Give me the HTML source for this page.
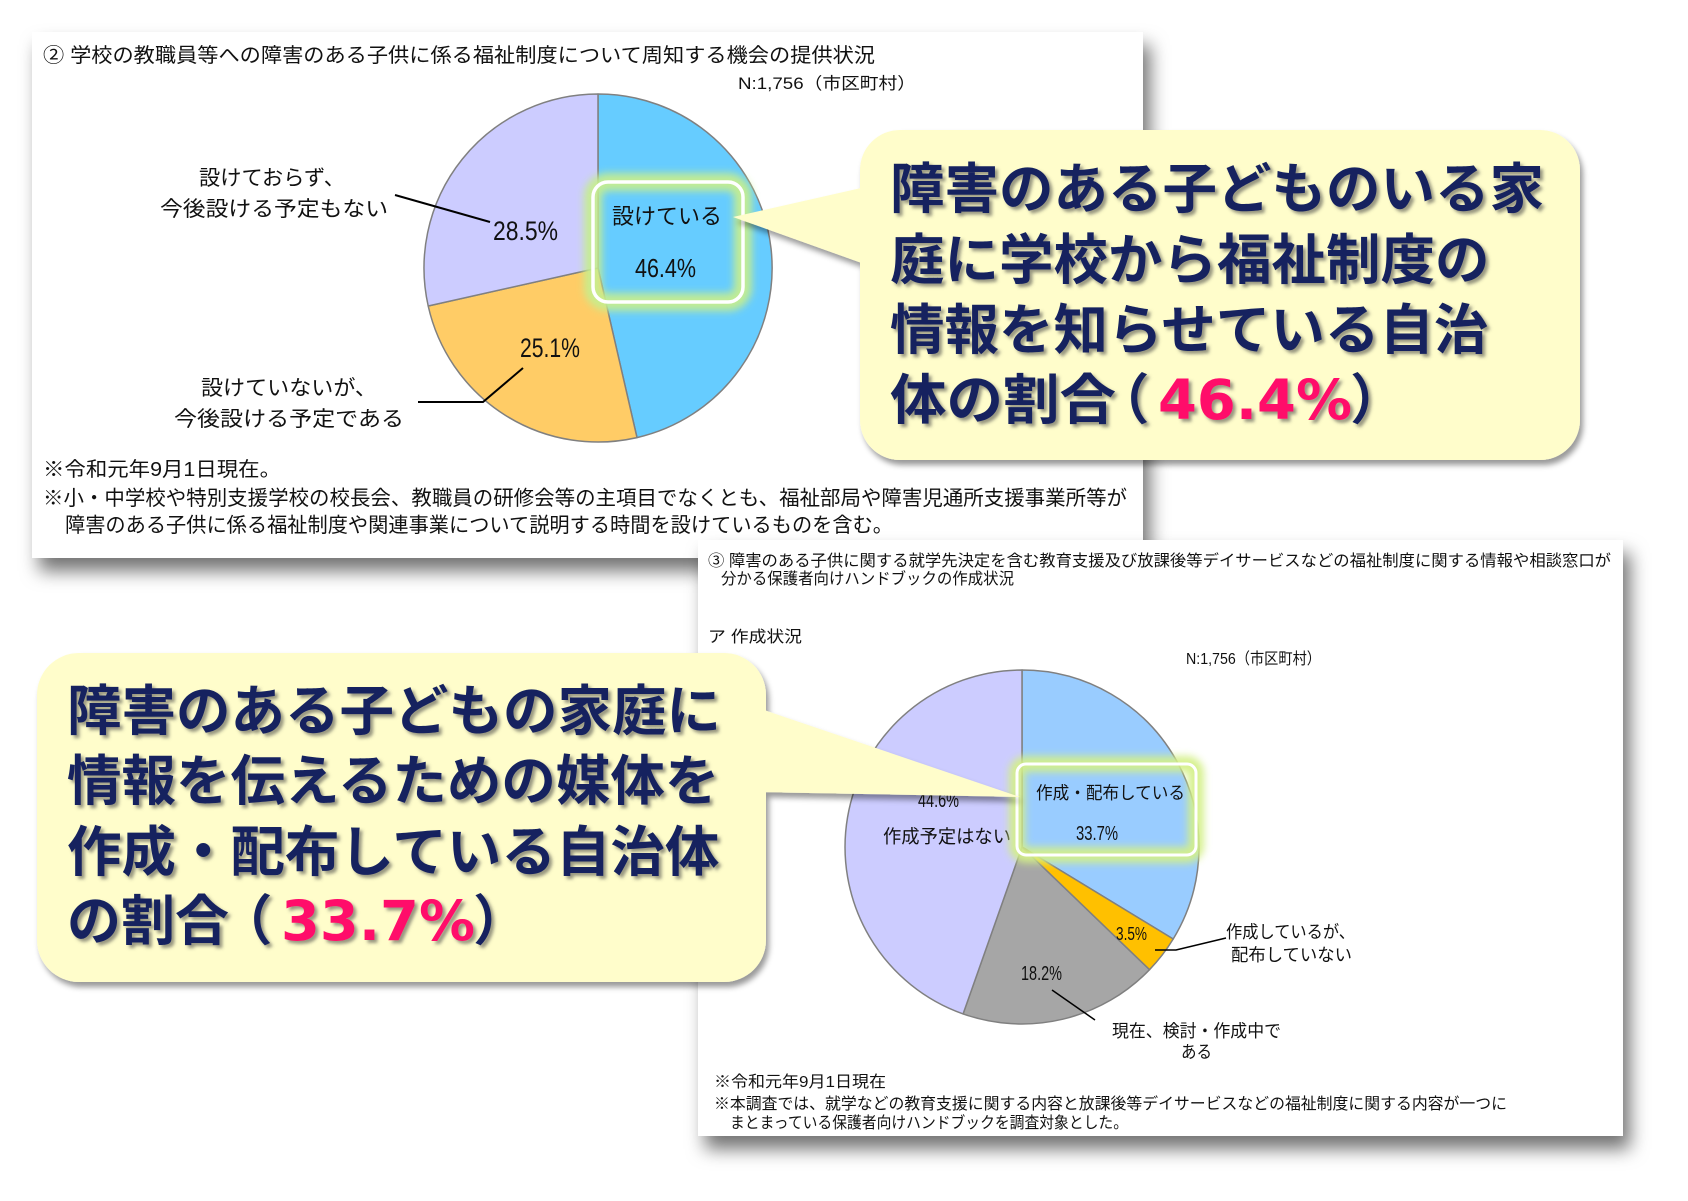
<!DOCTYPE html>
<html lang="ja">
<head>
<meta charset="utf-8">
<style>
html,body{margin:0;padding:0;background:#ffffff;}
body{width:1688px;height:1201px;overflow:hidden;}
svg{display:block;}
.t{font-family:"Liberation Sans","Noto Sans CJK JP",sans-serif;fill:#111;}
.big{font-family:"Liberation Sans","Noto Sans CJK JP",sans-serif;font-weight:bold;fill:#13235f;font-size:54.5px;}
.pk{font-family:"DejaVu Sans","Liberation Sans",sans-serif;font-weight:bold;fill:#ff0f6b;}
</style>
</head>
<body>
<svg width="1688" height="1201" viewBox="0 0 1688 1201" xmlns="http://www.w3.org/2000/svg">
<defs>
  <filter id="psh" x="-5%" y="-5%" width="115%" height="120%">
    <feDropShadow dx="7" dy="13" stdDeviation="9" flood-color="#000" flood-opacity="0.55"/>
  </filter>
  <filter id="csh" x="-5%" y="-5%" width="112%" height="118%">
    <feDropShadow dx="3" dy="5" stdDeviation="3" flood-color="#000" flood-opacity="0.4"/>
  </filter>
  <filter id="tsh" x="-5%" y="-30%" width="110%" height="160%">
    <feDropShadow dx="3" dy="3" stdDeviation="1.5" flood-color="#444" flood-opacity="0.55"/>
  </filter>
  <filter id="blur" x="-20%" y="-20%" width="140%" height="140%">
    <feGaussianBlur stdDeviation="4"/>
  </filter>
</defs>

<rect x="0" y="0" width="1688" height="1201" fill="#ffffff"/>

<!-- ============ TOP PANEL ============ -->
<rect x="32" y="32" width="1111" height="526" fill="#ffffff" filter="url(#psh)"/>

<text class="t" x="43" y="62" font-size="20" textLength="832" lengthAdjust="spacingAndGlyphs">② 学校の教職員等への障害のある子供に係る福祉制度について周知する機会の提供状況</text>
<text class="t" x="738" y="89" font-size="16.5" textLength="178" lengthAdjust="spacingAndGlyphs">N:1,756（市区町村）</text>

<!-- pie 1 -->
<g stroke="#808080" stroke-width="1.5" stroke-linejoin="round">
  <path d="M598,268 L598,94 A174,174 0 0 1 637.0,437.6 Z" fill="#66ccff"/>
  <path d="M598,268 L637.0,437.6 A174,174 0 0 1 428.2,306.0 Z" fill="#ffcc66"/>
  <path d="M598,268 L428.2,306.0 A174,174 0 0 1 598,94 Z" fill="#ccccff"/>
</g>

<text class="t" x="199" y="185" font-size="21" textLength="146" lengthAdjust="spacingAndGlyphs">設けておらず、</text>
<text class="t" x="160" y="216" font-size="21" textLength="228" lengthAdjust="spacingAndGlyphs">今後設ける予定もない</text>
<line x1="395" y1="195" x2="490" y2="222" stroke="#000" stroke-width="2"/>
<text class="t" x="493" y="240" font-size="27" textLength="65" lengthAdjust="spacingAndGlyphs">28.5%</text>

<text class="t" x="520" y="357" font-size="27" textLength="60" lengthAdjust="spacingAndGlyphs">25.1%</text>
<text class="t" x="201" y="395" font-size="21" textLength="176" lengthAdjust="spacingAndGlyphs">設けていないが、</text>
<text class="t" x="174" y="426" font-size="21" textLength="230" lengthAdjust="spacingAndGlyphs">今後設ける予定である</text>
<polyline points="418,402 483,402 523,368" fill="none" stroke="#000" stroke-width="2"/>

<!-- highlight box 1 -->
<rect x="593" y="182" width="150" height="120" rx="15" fill="none" stroke="#c6ee8e" stroke-width="18" filter="url(#blur)" opacity="0.95"/>
<text class="t" x="612" y="224" font-size="22" textLength="110" lengthAdjust="spacingAndGlyphs">設けている</text>
<text class="t" x="635" y="277" font-size="26" textLength="61" lengthAdjust="spacingAndGlyphs">46.4%</text>
<rect x="593" y="182" width="150" height="120" rx="15" fill="none" stroke="#ffffff" stroke-width="3.5"/>

<!-- footnotes top -->
<text class="t" x="43" y="476" font-size="20" textLength="238" lengthAdjust="spacingAndGlyphs">※令和元年9月1日現在。</text>
<text class="t" x="43" y="505" font-size="20.5" textLength="1084" lengthAdjust="spacingAndGlyphs">※小・中学校や特別支援学校の校長会、教職員の研修会等の主項目でなくとも、福祉部局や障害児通所支援事業所等が</text>
<text class="t" x="65" y="532" font-size="20.5" textLength="828" lengthAdjust="spacingAndGlyphs">障害のある子供に係る福祉制度や関連事業について説明する時間を設けているものを含む。</text>

<!-- ============ BOTTOM PANEL ============ -->
<rect x="698" y="540" width="925" height="596" fill="#ffffff" filter="url(#psh)"/>

<text class="t" x="708" y="566" font-size="16" textLength="903" lengthAdjust="spacingAndGlyphs">③ 障害のある子供に関する就学先決定を含む教育支援及び放課後等デイサービスなどの福祉制度に関する情報や相談窓口が</text>
<text class="t" x="721" y="584" font-size="16" textLength="293" lengthAdjust="spacingAndGlyphs">分かる保護者向けハンドブックの作成状況</text>
<text class="t" x="708" y="642" font-size="16" textLength="94" lengthAdjust="spacingAndGlyphs">ア 作成状況</text>
<text class="t" x="1186" y="664" font-size="16" textLength="135" lengthAdjust="spacingAndGlyphs">N:1,756（市区町村）</text>

<!-- pie 2 -->
<g stroke="#808080" stroke-width="1.5" stroke-linejoin="round">
  <path d="M1022,847 L1022,670 A177,177 0 0 1 1173.2,939.0 Z" fill="#99ccff"/>
  <path d="M1022,847 L1173.2,939.0 A177,177 0 0 1 1149.5,969.7 Z" fill="#ffc000"/>
  <path d="M1022,847 L1149.5,969.7 A177,177 0 0 1 963.1,1013.9 Z" fill="#a6a6a6"/>
  <path d="M1022,847 L963.1,1013.9 A177,177 0 0 1 1022,670 Z" fill="#ccccff"/>
</g>

<text class="t" x="918" y="807" font-size="20" textLength="41" lengthAdjust="spacingAndGlyphs">44.6%</text>
<text class="t" x="883" y="843" font-size="18.5" textLength="128" lengthAdjust="spacingAndGlyphs">作成予定はない</text>
<text class="t" x="1116" y="940" font-size="18" textLength="31" lengthAdjust="spacingAndGlyphs">3.5%</text>
<text class="t" x="1021" y="980" font-size="20" textLength="41" lengthAdjust="spacingAndGlyphs">18.2%</text>
<text class="t" x="1226" y="938" font-size="17.5" textLength="129" lengthAdjust="spacingAndGlyphs">作成しているが、</text>
<text class="t" x="1231" y="961" font-size="17.5" textLength="121" lengthAdjust="spacingAndGlyphs">配布していない</text>
<polyline points="1155,950 1176,950 1226,938" fill="none" stroke="#000" stroke-width="1.5"/>
<text class="t" x="1112" y="1037" font-size="17.5" textLength="169" lengthAdjust="spacingAndGlyphs">現在、検討・作成中で</text>
<text class="t" x="1181" y="1058" font-size="17.5" textLength="31" lengthAdjust="spacingAndGlyphs">ある</text>
<line x1="1052" y1="990" x2="1095" y2="1020" stroke="#000" stroke-width="1.5"/>

<!-- highlight box 2 -->
<rect x="1017" y="764" width="179" height="91" rx="9" fill="none" stroke="#d4f088" stroke-width="16" filter="url(#blur)" opacity="0.95"/>
<text class="t" x="1036" y="799" font-size="17.5" textLength="149" lengthAdjust="spacingAndGlyphs">作成・配布している</text>
<text class="t" x="1076" y="840" font-size="20" textLength="42" lengthAdjust="spacingAndGlyphs">33.7%</text>
<rect x="1017" y="764" width="179" height="91" rx="9" fill="none" stroke="#ffffff" stroke-width="3"/>

<!-- footnotes bottom -->
<text class="t" x="714" y="1087" font-size="16" textLength="172" lengthAdjust="spacingAndGlyphs">※令和元年9月1日現在</text>
<text class="t" x="714" y="1109" font-size="16" textLength="793" lengthAdjust="spacingAndGlyphs">※本調査では、就学などの教育支援に関する内容と放課後等デイサービスなどの福祉制度に関する内容が一つに</text>
<text class="t" x="730" y="1128" font-size="16" textLength="398" lengthAdjust="spacingAndGlyphs">まとまっている保護者向けハンドブックを調査対象とした。</text>

<!-- ============ CALLOUT 1 ============ -->
<g filter="url(#csh)" fill="#fffdcb">
  <rect x="860" y="130" width="720" height="330" rx="40" ry="40"/>
  <polygon points="733,217 870,186 870,266"/>
</g>
<g filter="url(#tsh)">
  <text class="big" x="890" y="208">障害のある子どものいる家</text>
  <text class="big" x="890" y="279">庭に学校から福祉制度の</text>
  <text class="big" x="890" y="349">情報を知らせている自治</text>
  <text class="big" x="890" y="419" textLength="226" lengthAdjust="spacingAndGlyphs">体の割合</text>
  <text class="big" x="1095" y="419">（</text>
  <text class="pk" x="1158" y="419" font-size="55" textLength="194" lengthAdjust="spacingAndGlyphs">46.4%</text>
  <text class="big" x="1350" y="419">）</text>
</g>

<!-- ============ CALLOUT 2 ============ -->
<g filter="url(#csh)" fill="#fffdcb">
  <rect x="37" y="653" width="729" height="329" rx="42" ry="42"/>
  <polygon points="755,707 1020,797 755,792"/>
</g>
<g filter="url(#tsh)">
  <text class="big" x="67" y="730">障害のある子どもの家庭に</text>
  <text class="big" x="67" y="800">情報を伝えるための媒体を</text>
  <text class="big" x="67" y="871">作成・配布している自治体</text>
  <text class="big" x="67" y="940" textLength="162" lengthAdjust="spacingAndGlyphs">の割合</text>
  <text class="big" x="218" y="940">（</text>
  <text class="pk" x="281" y="940" font-size="55" textLength="194" lengthAdjust="spacingAndGlyphs">33.7%</text>
  <text class="big" x="473" y="940">）</text>
</g>
</svg>
</body>
</html>
